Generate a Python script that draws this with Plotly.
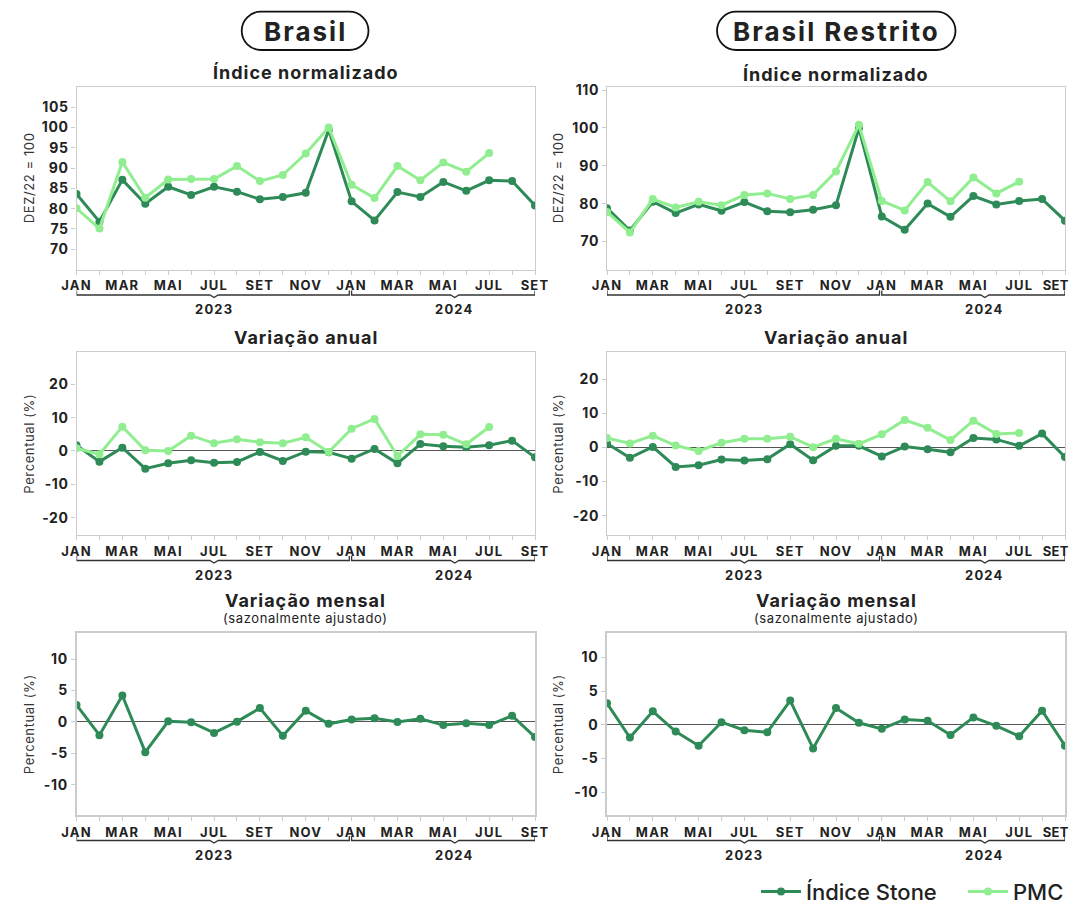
import plotly.graph_objects as go

# ---------------- data ----------------
meses = ["JAN", "FEV", "MAR", "ABR", "MAI", "JUN", "JUL", "AGO", "SET", "OUT", "NOV", "DEZ",
         "JAN", "FEV", "MAR", "ABR", "MAI", "JUN", "JUL", "AGO", "SET"]
anos = [2023] * 12 + [2024] * 9

# Brasil
br_indice_stone = [83.6, 76.8, 87.1, 81.2, 85.4, 83.4, 85.4, 84.2, 82.3, 82.9, 83.9, 99.4,
                   81.8, 77.1, 84.1, 82.9, 86.6, 84.4, 87.0, 86.8, 80.8]
br_indice_pmc = [80.1, 75.1, 91.5, 82.7, 87.2, 87.3, 87.3, 90.5, 86.8, 88.3, 93.6, 100.0,
                 85.9, 82.6, 90.5, 87.0, 91.4, 89.1, 93.7, None, None]
br_anual_stone = [1.7, -3.2, 1.0, -5.3, -3.7, -2.8, -3.5, -3.3, -0.3, -3.0, -0.2, -0.4,
                  -2.3, 0.6, -3.7, 2.1, 1.4, 1.1, 1.7, 3.1, -1.9]
br_anual_pmc = [0.8, -1.0, 7.3, 0.2, 0.0, 4.6, 2.3, 3.5, 2.6, 2.3, 4.1, -0.3,
                6.7, 9.6, -1.5, 5.0, 4.9, 2.0, 7.2, None, None]
br_mensal_stone = [2.7, -2.1, 4.2, -4.8, 0.1, -0.05, -1.75, 0.05, 2.2, -2.2, 1.8, -0.3,
                   0.4, 0.6, 0.0, 0.5, -0.5, -0.2, -0.5, 1.0, -2.4]

# Brasil Restrito
rs_indice_stone = [78.8, 72.9, 80.5, 77.5, 79.8, 78.1, 80.4, 78.0, 77.7, 78.4, 79.6, 99.9,
                   76.6, 73.1, 80.0, 76.5, 82.0, 79.8, 80.7, 81.2, 75.5]
rs_indice_pmc = [77.8, 72.4, 81.2, 79.0, 80.5, 79.6, 82.3, 82.7, 81.2, 82.3, 88.5, 100.8,
                 80.7, 78.2, 85.7, 80.6, 86.9, 82.7, 85.8, None, None]
rs_anual_stone = [1.2, -3.0, 0.2, -5.7, -5.2, -3.5, -3.8, -3.4, 1.0, -3.7, 0.5, 0.5,
                  -2.6, 0.3, -0.5, -1.4, 2.8, 2.4, 0.5, 4.1, -2.8]
rs_anual_pmc = [2.8, 1.2, 3.5, 0.6, -1.0, 1.4, 2.6, 2.6, 3.2, 0.1, 2.6, 1.1,
                3.9, 8.1, 5.8, 2.2, 7.9, 4.0, 4.3, None, None]
rs_mensal_stone = [3.2, -1.9, 2.0, -1.0, -3.1, 0.4, -0.8, -1.1, 3.6, -3.5, 2.5, 0.3,
                   -0.6, 0.8, 0.6, -1.5, 1.1, -0.15, -1.7, 2.1, -3.1]

# axis ticks / ranges
ticks_indice_br = [70, 75, 80, 85, 90, 95, 100, 105]
ticks_indice_rs = [70, 80, 90, 100, 110]
ticks_anual = [-20, -10, 0, 10, 20]
ticks_mensal = [-10, -5, 0, 5, 10]
range_indice_br = [65, 110]
range_indice_rs = [62.6, 110.8]
range_anual_br = [-25.2, 29.6]
range_anual_rs = [-25.7, 28.0]
range_mensal_br = [-14.8, 14.1]
range_mensal_rs = [-13.4, 13.6]

# ---------------- style ----------------
OFF = 8                       # page body margin
W, H = 1077 - OFF, 903 - OFF
FONT = "Inter"
DARK = "#2E8B57"
LIGHT = "#90EE90"
TXT = "#222222"
BORDER = "#cccccc"
NBSP = "\u00a0"


def sp(text, px):
    return f'<span style="letter-spacing:{px}px">{text}</span>'


def px2x(px):
    return (px - OFF) / W


def px2y(py):
    return 1 - (py - OFF) / H


XL = [px2x(76.5), px2x(535)]
XR = [px2x(607), px2x(1065)]
ROWS = [(87, 269.5), (352.3, 535), (633.3, 815)]
YD = [[px2y(b), px2y(t)] for t, b in ROWS]

x_idx = list(range(len(meses)))
tick_idx = x_idx[::2]

fig = go.Figure()

panels = [
    (1, XL, 0, [("Índice Stone", br_indice_stone, DARK), ("PMC", br_indice_pmc, LIGHT)],
     range_indice_br, ticks_indice_br, "DEZ/22 = 100"),
    (2, XR, 0, [("Índice Stone", rs_indice_stone, DARK), ("PMC", rs_indice_pmc, LIGHT)],
     range_indice_rs, ticks_indice_rs, "DEZ/22 = 100"),
    (3, XL, 1, [("Índice Stone", br_anual_stone, DARK), ("PMC", br_anual_pmc, LIGHT)],
     range_anual_br, ticks_anual, "Percentual (%)"),
    (4, XR, 1, [("Índice Stone", rs_anual_stone, DARK), ("PMC", rs_anual_pmc, LIGHT)],
     range_anual_rs, ticks_anual, "Percentual (%)"),
    (5, XL, 2, [("Índice Stone", br_mensal_stone, DARK)],
     range_mensal_br, ticks_mensal, "Percentual (%)"),
    (6, XR, 2, [("Índice Stone", rs_mensal_stone, DARK)],
     range_mensal_rs, ticks_mensal, "Percentual (%)"),
]

shapes = []
annotations = []

for n, xd, row, series, yr, yt, ytitle in panels:
    xa = "x" if n == 1 else f"x{n}"
    ya = "y" if n == 1 else f"y{n}"
    lw = 2 if row == 2 else 1.3
    right_col = xd is XR
    for name, vals, col in series:
        fig.add_trace(go.Scatter(
            x=x_idx, y=vals, name=name, mode="lines+markers",
            line=dict(color=col, width=3), marker=dict(color=col, size=8),
            xaxis=xa, yaxis=ya, legendgroup=name, showlegend=(n == 1),
            connectgaps=False, hoverinfo="skip"))
    xkey = "xaxis" if n == 1 else f"xaxis{n}"
    ykey = "yaxis" if n == 1 else f"yaxis{n}"
    xt = []
    for i in tick_idx:
        if i == tick_idx[-1] and right_col:
            # keep the last label inside the page edge
            xt.append(sp(meses[i], 0.3) + NBSP * 6)
        else:
            xt.append(sp(meses[i], 1.2))
    fig.update_layout(**{
        xkey: dict(domain=xd, anchor=ya, range=[0, len(meses) - 1], automargin=False,
                   tickmode="array", tickvals=tick_idx, ticktext=xt,
                   ticklabeloverflow="allow",
                   ticks="outside", ticklen=4, tickcolor=BORDER,
                   showline=True, mirror=True, linecolor=BORDER, linewidth=lw,
                   showgrid=False, zeroline=False,
                   tickfont=dict(family=FONT, size=13, color=TXT, weight=700),
                   minor=dict(tickmode="linear", tick0=0, dtick=1, ticks="outside",
                              ticklen=4, tickcolor=BORDER),
                   fixedrange=True),
        ykey: dict(domain=YD[row], anchor=xa, range=yr, automargin=False,
                   tickmode="array", tickvals=yt, ticktext=[sp(str(v), 0.6) for v in yt],
                   ticklabeloverflow="allow",
                   ticks="outside", ticklen=4, tickcolor=BORDER,
                   showline=True, mirror=True, linecolor=BORDER, linewidth=lw,
                   showgrid=False, zeroline=True, zerolinecolor="#555555", zerolinewidth=1,
                   tickfont=dict(family=FONT, size=14, color=TXT, weight=700),
                   fixedrange=True),
    })
    # y-axis title
    ytx = 558 if right_col else 29
    annotations.append(dict(
        text=sp(ytitle, 0.6), x=px2x(ytx), y=(YD[row][0] + YD[row][1]) / 2,
        xref="paper", yref="paper", textangle=-90, showarrow=False,
        xanchor="center", yanchor="middle",
        font=dict(family=FONT, size=13, color="#333333", weight=400)))
    # year brackets
    bottom_px = ROWS[row][1]
    y_line = px2y(bottom_px + 25.5)
    y_end = px2y(bottom_px + 21)
    y_notch = px2y(bottom_px + 28)
    for ano in sorted(set(anos)):
        idx = [i for i, a in enumerate(anos) if a == ano]
        first, last = idx[0], idx[-1]
        x0 = first
        x1 = last + 1 - 0.1 if last + 1 < len(meses) else last
        cen = (first + last + 1) / 2
        path = (f"M {x0},{y_end} L {x0},{y_line} L {cen - 0.18},{y_line} "
                f"L {cen},{y_notch} L {cen + 0.18},{y_line} L {x1},{y_line} L {x1},{y_end}")
        shapes.append(dict(type="path", path=path, xref=xa, yref="paper",
                           line=dict(color="#333333", width=1.3)))
        annotations.append(dict(
            text=sp(str(ano), 1.2), x=cen, y=px2y(bottom_px + 39.5), xref=xa, yref="paper",
            showarrow=False, xanchor="center", yanchor="middle",
            font=dict(family=FONT, size=13, color=TXT, weight=700)))

# panel titles
col_centers = {"L": (XL[0] + XL[1]) / 2, "R": (XR[0] + XR[1]) / 2}
titles = [
    ("L", 72, "Índice normalizado"), ("R", 74, "Índice normalizado"),
    ("L", 338, "Variação anual"), ("R", 338, "Variação anual"),
    ("L", 600, "Variação mensal"), ("R", 600, "Variação mensal"),
]
for c, ypx, t in titles:
    annotations.append(dict(
        text=sp(t, 1.0), x=col_centers[c], y=px2y(ypx), xref="paper", yref="paper",
        showarrow=False, xanchor="center", yanchor="middle",
        font=dict(family=FONT, size=18, color=TXT, weight=700)))
for c in ("L", "R"):
    annotations.append(dict(
        text=sp("(sazonalmente ajustado)", 0.6), x=col_centers[c], y=px2y(618.3),
        xref="paper", yref="paper", showarrow=False, xanchor="center", yanchor="middle",
        font=dict(family=FONT, size=13, color=TXT, weight=400)))


# header pills
def pill(x0, x1, y0, y1):
    r = (y1 - y0) / 2
    k = 0.5523 * r
    ym = (y0 + y1) / 2
    pts = [
        ("M", [(x0 + r, y0)]), ("L", [(x1 - r, y0)]),
        ("C", [(x1 - r + k, y0), (x1, ym - k), (x1, ym)]),
        ("C", [(x1, ym + k), (x1 - r + k, y1), (x1 - r, y1)]),
        ("L", [(x0 + r, y1)]),
        ("C", [(x0 + r - k, y1), (x0, ym + k), (x0, ym)]),
        ("C", [(x0, ym - k), (x0 + r - k, y0), (x0 + r, y0)]),
    ]
    s = ""
    for cmd, ps in pts:
        s += cmd + " " + " ".join(f"{px2x(a):.5f},{px2y(b):.5f}" for a, b in ps) + " "
    return s + "Z"


headers = [("Brasil", 241.7, 368.5), ("Brasil Restrito", 717, 955.5)]
for text, x0, x1 in headers:
    shapes.append(dict(type="path", path=pill(x0, x1, 11.7, 50), xref="paper", yref="paper",
                       line=dict(color="#111111", width=1.8)))
    annotations.append(dict(
        text=sp(text, 2.0), x=px2x((x0 + x1) / 2), y=px2y(31), xref="paper", yref="paper",
        showarrow=False, xanchor="center", yanchor="middle",
        font=dict(family=FONT, size=26, color=TXT, weight=700)))

fig.update_layout(
    template="none",
    width=W, height=H, autosize=False,
    margin=dict(l=0, r=0, t=0, b=0, pad=0, autoexpand=False),
    paper_bgcolor="white", plot_bgcolor="white",
    shapes=shapes, annotations=annotations,
    showlegend=True,
    legend=dict(orientation="h", xref="container", yref="container",
                x=px2x(756), xanchor="left", y=px2y(891.7), yanchor="middle",
                entrywidth=152, entrywidthmode="pixels",
                font=dict(family=FONT, size=22, color=TXT, weight=500),
                bgcolor="rgba(0,0,0,0)", borderwidth=0, itemwidth=40, tracegroupgap=0),
    font=dict(family=FONT, color=TXT),
)

fig.write_html("out.html")
